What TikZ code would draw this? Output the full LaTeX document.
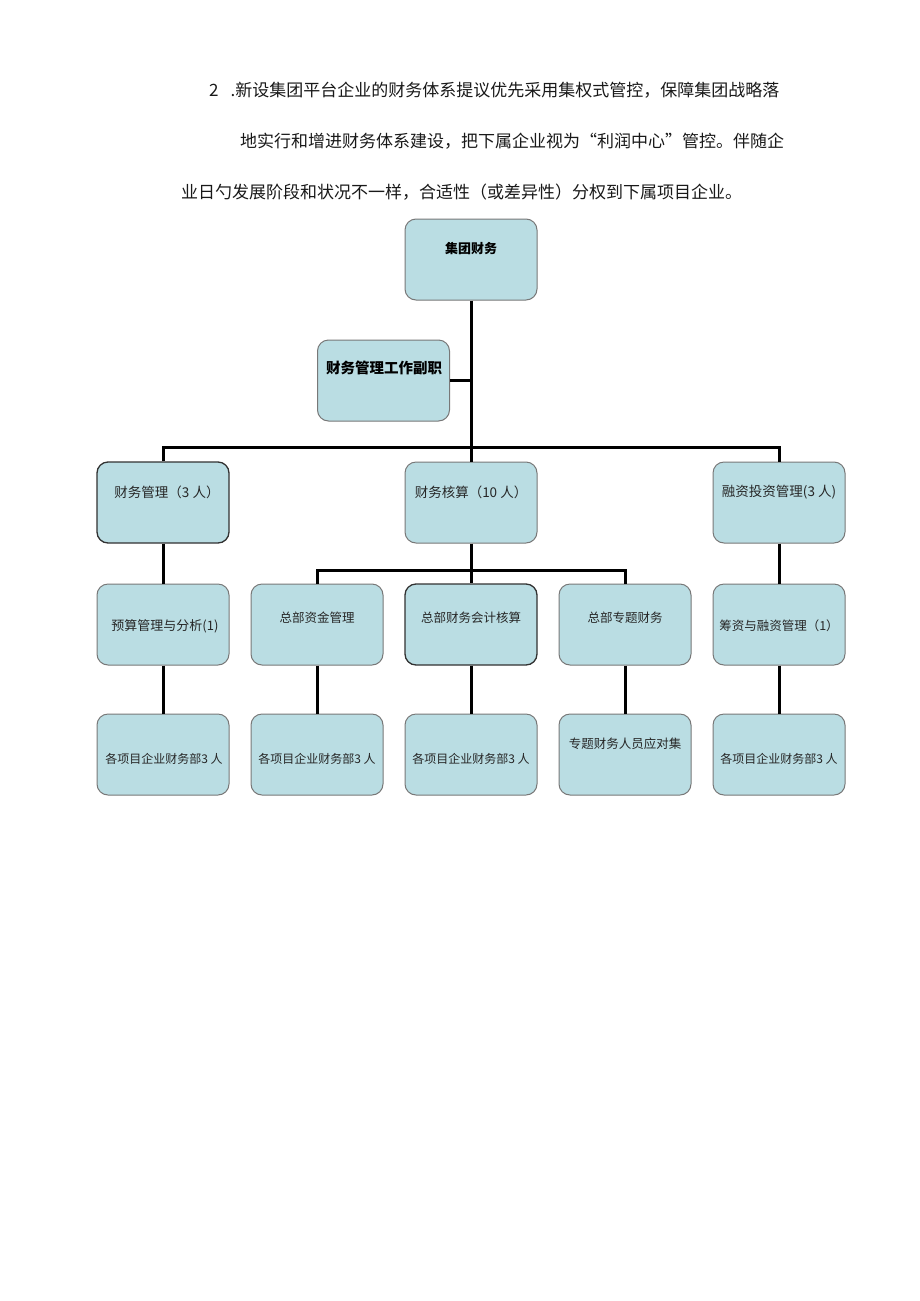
\documentclass[tikz,border=0pt]{standalone}
\usepackage{fontspec}
\newfontfamily\cjk{Noto Sans CJK SC}
\definecolor{boxfill}{RGB}{186,221,227}
\definecolor{boxgray}{RGB}{120,120,120}
\definecolor{boxdark}{RGB}{50,50,50}
\tikzset{
  orgbox/.style={draw=boxgray, fill=boxfill, rounded corners=11pt, line width=1pt,
    minimum width=132pt, minimum height=81pt, inner sep=0pt},
  darkbox/.style={orgbox, draw=boxdark, line width=1.3pt},
  conn/.style={line width=3pt, black},
  para/.style={anchor=west, inner sep=0pt, font=\cjk\fontsize{17}{19}\selectfont, text=black!90},
  lbl/.style={inner sep=0pt, font=\cjk\fontsize{12.5}{14}\selectfont, text=black!85},
  mlbl/.style={lbl, font=\cjk\fontsize{13.5}{15}\selectfont},
  slbl/.style={lbl, font=\cjk\fontsize{12}{14}\selectfont},
  blbl/.style={inner sep=0pt, font=\cjk\bfseries\fontsize{13}{15}\selectfont, text=black}
}
\begin{document}
\begin{tikzpicture}[x=1pt,y=-1pt]
\useasboundingbox[fill=white] (0,0) rectangle (920,1301);
% paragraph
\node[para] (p1t) at (209,90) {2\hspace{12pt}.新设集团平台企业的财务体系提议优先采用集权式管控，保障集团战略落};
\node[para] (p2t) at (240,141) {地实行和增进财务体系建设，把下属企业视为“利润中心”管控。伴随企};
\node[para] (p3t) at (181,192) {业日勺发展阶段和状况不一样，合适性（或差异性）分权到下属项目企业。};
% boxes
\node[orgbox] (top) at (471,259.5) {};
\node[orgbox] (vice) at (383.5,380.5) {};
\node[darkbox] (m1) at (163,502.5) {};
\node[orgbox] (m2) at (471,502.5) {};
\node[orgbox] (m3) at (779,502.5) {};
\node[orgbox] (s1) at (163,624.5) {};
\node[orgbox] (s2) at (317,624.5) {};
\node[darkbox] (s3) at (471,624.5) {};
\node[orgbox] (s4) at (625,624.5) {};
\node[orgbox] (s5) at (779,624.5) {};
\node[orgbox] (b1) at (163,754.5) {};
\node[orgbox] (b2) at (317,754.5) {};
\node[orgbox] (b3) at (471,754.5) {};
\node[orgbox] (b4) at (625,754.5) {};
\node[orgbox] (b5) at (779,754.5) {};
% labels
\node[blbl] (ttop) at (471,249) {集团财务};
\node[blbl, font=\cjk\bfseries\fontsize{14.5}{16}\selectfont] (tvice) at (384,368) {财务管理工作副职};
\node[mlbl] (tm1) at (167,492) {财务管理（3 人）};
\node[mlbl] (tm2) at (471,492) {财务核算（10 人）};
\node[mlbl] (tm3) at (779,492) {融资投资管理(3 人)};
\node[lbl, font=\cjk\fontsize{13}{15}\selectfont] (ts1) at (165,626) {预算管理与分析(1)};
\node[lbl] (ts2) at (317,618) {总部资金管理};
\node[lbl] (ts3) at (471,618) {总部财务会计核算};
\node[lbl] (ts4) at (625,618) {总部专题财务};
\node[lbl] (ts5) at (779,626) {筹资与融资管理（1）};
\node[slbl] (tb1) at (164,759) {各项目企业财务部3 人};
\node[slbl] (tb2) at (317,759) {各项目企业财务部3 人};
\node[slbl] (tb3) at (471,759) {各项目企业财务部3 人};
\node[lbl] (tb4) at (625,744) {专题财务人员应对集};
\node[slbl] (tb5) at (779,759) {各项目企业财务部3 人};
% connectors
\coordinate (bar) at (471,447);
\coordinate (sub) at (471,570);
\draw[conn] (top.south) -- (m2.north);
\draw[conn] (vice.east) -- (vice.east -| top.south);
\draw[conn] (m1.north) |- (bar) -| (m3.north);
\draw[conn] (m1.south) -- (s1.north);
\draw[conn] (m3.south) -- (s5.north);
\draw[conn] (m2.south) -- (s3.north);
\draw[conn] (s2.north) |- (sub) -| (s4.north);
\draw[conn] (s1.south) -- (b1.north);
\draw[conn] (s2.south) -- (b2.north);
\draw[conn] (s3.south) -- (b3.north);
\draw[conn] (s4.south) -- (b4.north);
\draw[conn] (s5.south) -- (b5.north);
\end{tikzpicture}
\end{document}
